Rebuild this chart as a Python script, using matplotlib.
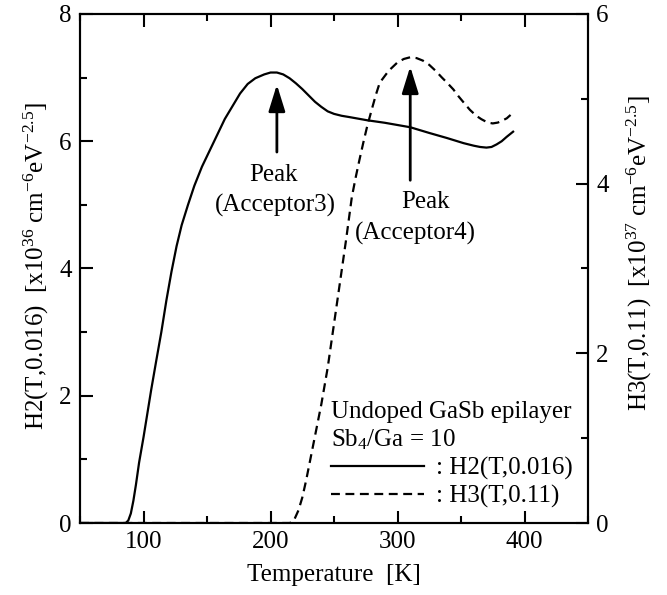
import matplotlib
matplotlib.use("Agg")
import matplotlib.pyplot as plt
from matplotlib.ticker import MultipleLocator

plt.rcParams['font.family'] = ['Liberation Serif', 'DejaVu Serif']
plt.rcParams['mathtext.fontset'] = 'custom'
plt.rcParams['mathtext.rm'] = 'Liberation Serif'
plt.rcParams['mathtext.it'] = 'Liberation Serif:italic'
plt.rcParams['font.size'] = 18

# H2(T,0.016), left axis, x10^36
t_h2 = [50, 86, 88, 90, 92, 94, 96.5, 100, 103, 106, 110, 114, 118, 122, 126, 130, 135,
        140, 146, 152, 158, 164, 170, 176, 182, 188, 195, 200, 205, 210, 215, 220, 225,
        230, 235, 240, 245, 250, 256, 262, 276, 290, 310, 325, 339, 352, 360, 365, 370,
        374, 378, 382, 386, 391]
h2 = [0, 0, 0.04, 0.15, 0.35, 0.6, 0.95, 1.35, 1.72, 2.09, 2.55, 3.0, 3.5, 3.95, 4.35,
      4.68, 5.0, 5.3, 5.6, 5.85, 6.1, 6.35, 6.55, 6.75, 6.9, 6.99, 7.05, 7.08, 7.08, 7.05,
      6.99, 6.91, 6.82, 6.72, 6.62, 6.54, 6.47, 6.43, 6.40, 6.38, 6.33, 6.29, 6.22, 6.13,
      6.05, 5.97, 5.93, 5.91, 5.9, 5.91, 5.95, 6.0, 6.07, 6.15]

# H3(T,0.11), right axis, x10^37
t_h3 = [50, 215, 217, 219, 222, 225, 228, 232, 236, 240, 245, 250, 255, 259.5, 264, 267,
        270, 273, 276, 280, 283, 286, 293, 300, 305, 310, 315, 320, 325, 330, 335, 339,
        344, 348, 353, 357, 362, 366, 371, 375, 379, 382, 386, 389]
h3 = [0, 0, 0.01, 0.05, 0.15, 0.3, 0.5, 0.8, 1.1, 1.4, 1.83, 2.35, 2.87, 3.34, 3.84, 4.07,
      4.28, 4.48, 4.67, 4.89, 5.05, 5.19, 5.33, 5.43, 5.47, 5.49, 5.48, 5.45, 5.40, 5.33,
      5.25, 5.19, 5.11, 5.03, 4.94, 4.87, 4.80, 4.76, 4.72, 4.71, 4.72, 4.74, 4.77, 4.81]

fig = plt.figure(figsize=(6.67, 5.95), dpi=100)
ax = fig.add_axes([0.12, 0.121, 0.7616, 0.8555])
ax2 = ax.twinx()

l1, = ax.plot(t_h2, h2, color='black', lw=1.6)
l2, = ax2.plot(t_h3, h3, color='black', lw=1.6, dashes=(4, 2.5))

ax.set_xlim(50, 450)
ax.set_ylim(0, 8)
ax2.set_ylim(0, 6)
ax.xaxis.set_major_locator(MultipleLocator(100))
ax.xaxis.set_minor_locator(MultipleLocator(50))
ax.yaxis.set_major_locator(MultipleLocator(2))
ax.yaxis.set_minor_locator(MultipleLocator(1))
ax2.yaxis.set_major_locator(MultipleLocator(2))
ax2.yaxis.set_minor_locator(MultipleLocator(1))

for a in [ax, ax2]:
    for s in a.spines.values():
        s.set_linewidth(1.5)
ax.tick_params(which='both', direction='in', top=True, right=False, width=1.5,
               labelsize=18, pad=6)
ax.tick_params(which='major', length=9)
ax.tick_params(which='minor', length=5)
ax2.tick_params(which='both', direction='in', width=1.5, labelsize=18, pad=6)
ax2.tick_params(which='major', length=9)
ax2.tick_params(which='minor', length=5)

ax.set_xlabel('Temperature  [K]', fontsize=18, labelpad=8)
ax.set_ylabel(r'H2(T,0.016)  [x10$^{36}$ cm$^{-6}$eV$^{-2.5}$]', fontsize=18)
ax2.set_ylabel(r'H3(T,0.11)  [x10$^{37}$ cm$^{-6}$eV$^{-2.5}$]', fontsize=18)
ax.yaxis.set_label_coords(-0.058, 0.505)
ax2.yaxis.set_label_coords(1.073, 0.53)

arrow = dict(arrowstyle='-|>,head_length=0.9,head_width=0.28', color='black', lw=2,
             shrinkA=0, shrinkB=0)
ax.annotate('', xy=(205, 6.89), xytext=(205, 5.83), arrowprops=arrow)
ax2.annotate('', xy=(310, 5.38), xytext=(310, 4.04), arrowprops=arrow)

ax.text(202, 5.47, 'Peak', ha='center', va='center', fontsize=18)
ax.text(204, 4.99, '(Acceptor3)', ha='center', va='center', fontsize=18)
ax.text(322, 5.05, 'Peak', ha='center', va='center', fontsize=18)
ax.text(314, 4.55, '(Acceptor4)', ha='center', va='center', fontsize=18)

leg = ax.legend([l1, l2], [': H2(T,0.016)', ': H3(T,0.11)'],
                title='Undoped GaSb epilayer\nSb$_4$/Ga = 10',
                loc='lower right', bbox_to_anchor=(1.0, 0.0), frameon=False,
                fontsize=18, title_fontsize=18, handlelength=3.7, handletextpad=0.5,
                labelspacing=0.2, borderaxespad=0.2, alignment='left')

fig.savefig('out.png', dpi=100)
